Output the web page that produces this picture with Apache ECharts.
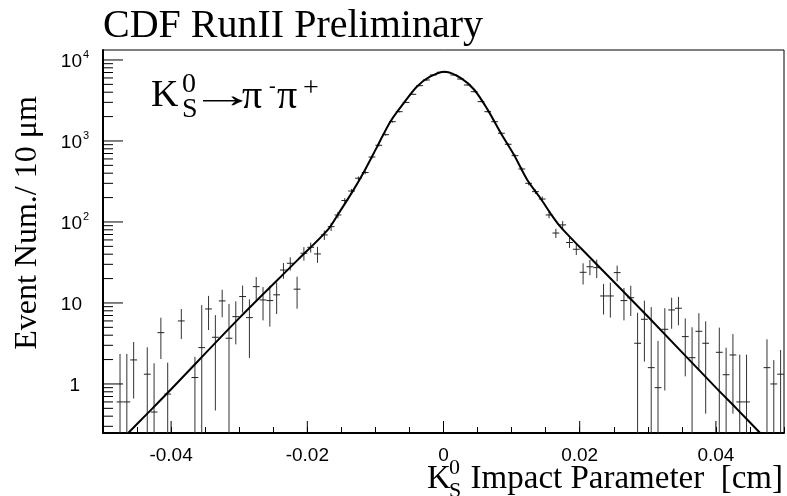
<!DOCTYPE html>
<html><head><meta charset="utf-8">
<script src="https://cdn.jsdelivr.net/npm/echarts@6/dist/echarts.min.js"></script>
<style>html,body{margin:0;padding:0;background:#fff}#c{width:787px;height:496px}</style>
</head><body><div id="c"></div>
<script>
// ---- axis ranges and ticks ----
const xMin = -0.05, xMax = 0.05;
const yMin = 0.248, yMax = 13280;
const xMajorTicks = [-0.04, -0.02, 0, 0.02, 0.04];
const xTickLabels = ['-0.04', '-0.02', '0', '0.02', '0.04'];
const yMajorTicks = [1, 10, 100, 1000, 10000];
const yTickBase = ['1', '10', '10', '10', '10'];
const yTickExp = ['', '', '2', '3', '4'];
const yMinorMultipliers = [2, 3, 4, 5, 6, 7, 8, 9];
const yDecades = [0.1, 1, 10, 100, 1000];

// ---- histogram (bin centre, content, error) ----
const binX = [
  -0.0475, -0.0465, -0.0455, -0.0435, -0.0425, -0.0415, -0.0405, -0.0385, -0.0365, -0.0355,
  -0.0345, -0.0335, -0.0325, -0.0315, -0.0305, -0.0295, -0.0285, -0.0275, -0.0265, -0.0255,
  -0.0245, -0.0235, -0.0225, -0.0215, -0.0205, -0.0195, -0.0185, -0.0175, -0.0165,
  -0.0155, -0.0145, -0.0135, -0.0125, -0.0115, -0.0105, -0.0095, -0.0085, -0.0075, -0.0065,
  -0.0055, -0.0045, -0.0035, -0.0025, -0.0015, -0.0005, 0.0005, 0.0015, 0.0025, 0.0035,
  0.0045, 0.0055, 0.0065, 0.0075, 0.0085, 0.0095, 0.0105, 0.0115, 0.0125, 0.0135,
  0.0145, 0.0155, 0.0165, 0.0175, 0.0185, 0.0195, 0.0205, 0.0215, 0.0225, 0.0235,
  0.0245, 0.0255, 0.0265, 0.0275, 0.0285, 0.0295, 0.0305, 0.0315, 0.0325, 0.0335,
  0.0345, 0.0355, 0.0365, 0.0375, 0.0385, 0.0405, 0.0415, 0.0425, 0.0435, 0.0445,
  0.0475, 0.0485, 0.0495
];
const binY = [
  0.60, 0.60, 1.98, 1.32, 0.45, 4.30, 0.75, 6.0, 1.2, 2.81,
  8.43, 3.77, 10.6, 3.67, 6.78, 12.0, 6.59, 15.9, 10.9, 10.7,
  12.6, 25.5, 30.9, 14.8, 41.1, 48.7, 40.3, 69.2, 87.5,
  122, 184, 241, 347, 408, 634, 885, 1196, 1730, 2300,
  2990, 3770, 4820, 5660, 6530, 7050, 7050, 6530, 5820, 4910,
  4060, 3060, 2300, 1730, 1245, 910, 659, 451, 300, 237,
  192, 122, 73, 92, 55.8, 46, 23.9, 28, 27.3, 12.2,
  12.2, 23.7, 10.7, 11.6, 3.18, 6.29, 1.59, 0.9, 4.73, 8.2,
  8.6, 3.84, 2.11, 4.47, 3.18, 2.46, 1.30, 2.28, 0.60, 0.60,
  1.59, 1.0, 1.32
];
const binErr = [
  1.75, 1.75, 1.32, 1.52, 1.35, 2.27, 1.08, 2.42, 0.96, 6.6,
  3.8, 3.3, 3.95, 6.05, 3.7, 4.4, 4.5, 5.0, 4.8, 5.6,
  5.3, 5.6, 5.7, 6.3, 7.8, 6.8, 9.0, 9.2, 10.2,
  11, 13, 15, 18, 20, 25, 30, 35, 42, 48,
  55, 61, 69, 75, 81, 84, 84, 81, 76, 70,
  64, 55, 48, 42, 35, 30, 26, 21, 17, 15,
  14, 11, 9.5, 11, 8, 7, 7, 6, 7, 5,
  5.6, 5.2, 4.6, 4.7, 4.4, 4.4, 7.3, 2.5, 3.9, 3.4,
  3.3, 2.6, 2.9, 3.0, 2.75, 2.5, 1.5, 1.85, 1.7, 1.7,
  1.97, 0.97, 1.3
];

// ---- fit curve ----
const fitX = [-0.0463, -0.0435, -0.04, -0.03, -0.0214, -0.0170, -0.01555, -0.01337, -0.01167, -0.00974, -0.00781,
  -0.00586, -0.00392, -0.00199, 0.0002, 0.00262, 0.00455, 0.0065, 0.00843, 0.01036, 0.01231,
  0.01424, 0.0157, 0.01715, 0.02, 0.03, 0.04, 0.043, 0.0465];
const fitY = [0.248, 0.43, 0.86, 6.5, 34, 80, 122, 237, 418, 851, 1730,
  2920, 4680, 6220, 7170, 5940, 4260, 2420, 1245, 671, 330,
  196, 128, 87.5, 49, 6.8, 0.90, 0.50, 0.248];

const SANS = '"Liberation Sans", Arial, Helvetica, sans-serif';
const SERIF = '"Liberation Serif", "Times New Roman", "DejaVu Serif", serif';

const yMinorTicks = [];
yDecades.forEach(d => yMinorMultipliers.forEach(m => {
  const v = m * d;
  if (v > yMin && v < yMax) yMinorTicks.push(v);
}));

const chart = echarts.init(document.getElementById('c'), null, {renderer: 'canvas'});

function lineEl(x1, y1, x2, y2, color, w) {
  return {type: 'line', shape: {x1, y1, x2, y2}, style: {stroke: color, lineWidth: w}};
}
function txt(x, y, text, size, family, align, extra) {
  return Object.assign({type: 'text', x, y, style: {text, fontSize: size, fontFamily: family, fill: '#000', align: align || 'left', verticalAlign: 'middle'}}, extra || {});
}

const option = {
  animation: false,
  backgroundColor: '#fff',
  grid: {left: 103, top: 50, width: 688, height: 383, show: true, borderColor: '#000', borderWidth: 1, backgroundColor: 'transparent'},
  xAxis: {
    type: 'value', min: xMin, max: xMax, interval: 0.005,
    axisLine: {show: true, onZero: false, lineStyle: {color: '#000', width: 2}},
    axisTick: {show: true, inside: true, length: 6, lineStyle: {color: '#000', width: 1}},
    splitLine: {show: false},
    axisLabel: {
      show: true, margin: 13, color: '#000', fontSize: 19, fontFamily: SANS,
      formatter: v => {
        for (let i = 0; i < xMajorTicks.length; i++) {
          if (Math.abs(v - xMajorTicks[i]) < 1e-9) return xTickLabels[i];
        }
        return '';
      }
    }
  },
  yAxis: {
    type: 'log', logBase: 10, min: yMin, max: yMax,
    axisLine: {show: true, onZero: false, lineStyle: {color: '#000', width: 2}},
    axisTick: {show: false},
    axisLabel: {show: false},
    splitLine: {show: false}
  },
  graphic: [
    txt(103, 26, 'CDF RunII Preliminary', 40, SERIF),
    txt(28, 223, 'Event Num./ 10 \u03bcm', 32, SERIF, 'center', {rotation: Math.PI / 2}),
    // K0S -> pi- pi+
    txt(151, 96, 'K', 38, SERIF),
    txt(182, 85, '0', 28, SERIF),
    txt(182, 110, 'S', 28, SERIF),
    txt(189, 97, '\u2192', 37, SANS, 'left', {scaleX: 1.8}),
    txt(242, 97, '\u03c0', 40, SERIF),
    txt(269, 87, '-', 20, SERIF),
    txt(277, 97, '\u03c0', 40, SERIF),
    txt(303, 89, '+', 28, SERIF),
    // x axis title
    txt(427, 479, 'K', 33, SERIF),
    txt(449, 468, '0', 22, SERIF),
    txt(449, 491, 'S', 22, SERIF),
    txt(783, 479, 'Impact Parameter  [cm]', 33, SERIF, 'right')
  ],
  series: [
    {
      name: 'fit', type: 'line', data: fitX.map((x, i) => [x, fitY[i]]),
      showSymbol: false, smooth: 0.3, clip: true, silent: true, z: 4,
      lineStyle: {color: '#000', width: 2}
    },
    {
      name: 'data', type: 'custom', clip: true, silent: true, z: 3,
      data: binX.map((x, i) => [x, binY[i], binErr[i]]),
      encode: {x: 0, y: 1},
      renderItem: (params, api) => {
        const x = api.value(0), v = api.value(1), e = api.value(2);
        const lo = Math.max(v - e, yMin);
        const pT = api.coord([x, v + e]), pB = api.coord([x, lo]);
        const pL = api.coord([x - 0.0005, v]), pR = api.coord([x + 0.0005, v]);
        return {type: 'group', children: [
          lineEl(pT[0], pT[1], pB[0], pB[1], '#333', 1),
          lineEl(pL[0], pL[1], pR[0], pR[1], '#222', 1)
        ]};
      }
    },
    {
      name: 'yticks', type: 'custom', silent: true, z: 5,
      data: yMajorTicks.map(v => [xMin, v, 20]).concat(yMinorTicks.map(v => [xMin, v, 10])),
      encode: {x: 0, y: 1},
      renderItem: (params, api) => {
        const p = api.coord([api.value(0), api.value(1)]);
        return lineEl(p[0], p[1], p[0] + api.value(2), p[1], '#000', 1);
      }
    },
    {
      name: 'xmajorticks', type: 'custom', silent: true, z: 5,
      data: xMajorTicks.map(x => [x, yMin]),
      encode: {x: 0, y: 1},
      renderItem: (params, api) => {
        const p = api.coord([api.value(0), api.value(1)]);
        return lineEl(p[0], p[1], p[0], p[1] - 12, '#000', 1);
      }
    },
    {
      name: 'ylabels', type: 'custom', silent: true, z: 5,
      data: yMajorTicks.map(v => [xMin, v]),
      encode: {x: 0, y: 1},
      renderItem: (params, api) => {
        const i = params.dataIndex;
        const p = api.coord([api.value(0), api.value(1)]);
        const base = yTickBase[i], ex = yTickExp[i];
        const rx = base === '1' ? p[0] - 23 : p[0] - 21;
        const kids = [txt(rx, p[1] + 2, base, 19, SANS, 'right')];
        if (ex) kids.push(txt(p[0] - 20, p[1] - 5, ex, 11, SANS, 'left'));
        return {type: 'group', children: kids};
      }
    }
  ]
};
chart.setOption(option);
</script>
</body></html>
